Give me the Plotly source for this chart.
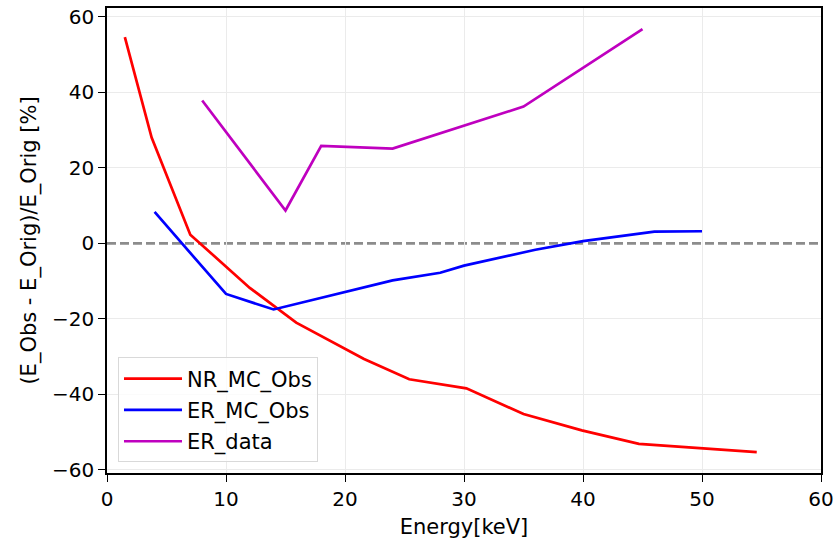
import plotly.graph_objects as go

nr_x = [1.5, 3.75, 7.0, 12.0, 15.9, 21.6, 25.4, 30.2, 35.0, 39.9, 44.7, 50.1, 54.6]
nr_y = [54.6, 28.0, 2.3, -11.8, -21.0, -30.6, -36.0, -38.4, -45.2, -49.5, -53.1, -54.4, -55.3]

er_x = [4.0, 10.0, 14.0, 20.0, 24.0, 28.0, 30.0, 36.0, 40.0, 46.0, 50.0]
er_y = [8.3, -13.4, -17.5, -13.0, -9.8, -7.8, -5.9, -1.7, 0.6, 3.1, 3.2]

erd_x = [8.0, 15.0, 18.0, 24.0, 35.0, 45.0]
erd_y = [37.8, 8.7, 25.8, 25.1, 36.2, 56.7]

x_ticks = [0, 10, 20, 30, 40, 50, 60]
y_ticks = [-60, -40, -20, 0, 20, 40, 60]
y_grid = [v for v in y_ticks if v != 0]

FONT = "DejaVu Sans"
TICK_SIZE = 20
LABEL_SIZE = 21
GRID = "#ebebeb"

fig = go.Figure()
fig.add_trace(go.Scatter(x=nr_x, y=nr_y, mode="lines", name="NR_MC_Obs", legendgroup="a",
                         line=dict(color="#ff0000", width=2.7)))
fig.add_trace(go.Scatter(x=er_x, y=er_y, mode="lines", name="ER_MC_Obs", legendgroup="b",
                         line=dict(color="#0000ff", width=2.7)))
fig.add_trace(go.Scatter(x=erd_x, y=erd_y, mode="lines", name="ER_data", legendgroup="c",
                         line=dict(color="#bf00bf", width=2.7)))

fig.add_shape(type="line", xref="paper", x0=0, x1=1, yref="y", y0=0, y1=0,
              line=dict(color="#8c8c8c", width=2.7, dash="9px,4px"), layer="between")

axis_common = dict(
    showline=True, linecolor="black", linewidth=1.5, mirror=True,
    ticks="outside", ticklen=7, tickwidth=1.3, tickcolor="black",
    zeroline=False, automargin=False,
    tickfont=dict(family=FONT, size=TICK_SIZE, color="black"),
)

fig.update_xaxes(range=[0, 60], tickvals=x_ticks, showgrid=True, gridcolor=GRID, gridwidth=1,
                 title=dict(text="Energy[keV]", font=dict(family=FONT, size=LABEL_SIZE, color="black"), standoff=17),
                 **axis_common)
fig.update_yaxes(range=[-60.8, 62.3], tickvals=y_ticks, showgrid=False,
                 minor=dict(tickmode="array", tickvals=y_grid, showgrid=True, gridcolor=GRID, gridwidth=1, ticks=""),
                 title=dict(text="(E_Obs - E_Orig)/E_Orig [%]", font=dict(family=FONT, size=LABEL_SIZE, color="black"), standoff=10),
                 **axis_common)

fig.update_layout(
    width=837, height=539,
    margin=dict(l=107, r=16, t=8, b=66),
    paper_bgcolor="white", plot_bgcolor="white",
    font=dict(family=FONT, size=LABEL_SIZE, color="black"),
    legend=dict(x=0.0154, y=0.0226, xanchor="left", yanchor="bottom",
                bgcolor="rgba(255,255,255,0.8)", bordercolor="#d9d9d9", borderwidth=1,
                font=dict(family=FONT, size=LABEL_SIZE, color="black"),
                tracegroupgap=1, itemwidth=58),
    showlegend=True,
)

fig.write_html("out.html", config={"displayModeBar": False},
               post_script="document.body.style.margin='0';document.body.style.overflow='hidden';")
